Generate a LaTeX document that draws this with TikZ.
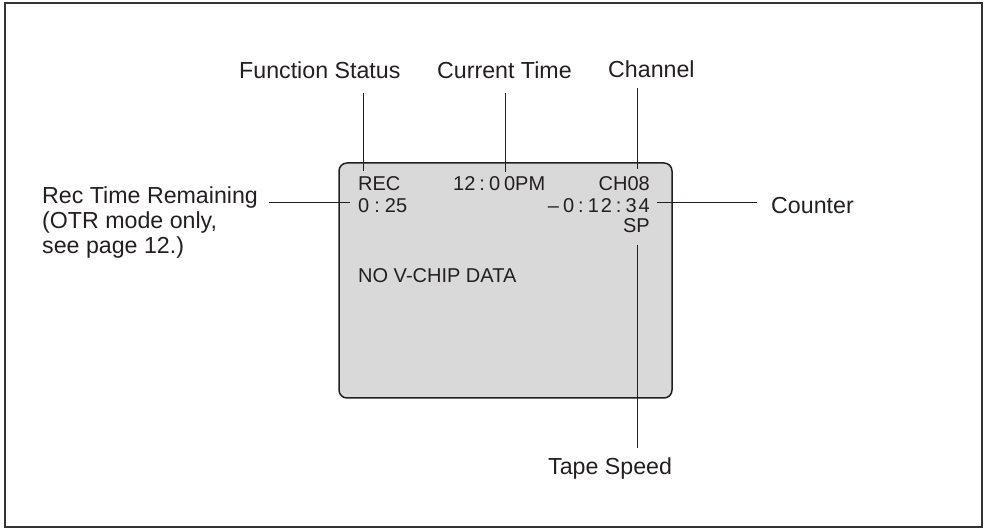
\documentclass[tikz,border=0pt]{standalone}
\usepackage{fontspec}
\setmainfont{Liberation Sans}
\definecolor{ink}{HTML}{231F20}
\definecolor{screen}{HTML}{D9D9D9}
\definecolor{frame}{HTML}{333333}
\begin{document}
\begin{tikzpicture}[x=1pt,y=-1pt,
  lbl/.style={font=\fontsize{23.2}{25}\selectfont, text=ink, inner sep=0pt, anchor=base west},
  scr/.style={font=\fontsize{20}{20}\selectfont, text=ink, inner sep=0pt, anchor=base west},
  lead/.style={draw=ink, line width=1pt}]
\useasboundingbox (0,0) rectangle (986,529);
\draw[line width=2pt, draw=frame] (5,3) rectangle (982,527);
\draw[fill=screen, draw=ink, line width=1.5pt, rounded corners=8pt] (339,163) rectangle (672,398);
% labels
\node[lbl] (fs) at (239,79) {Function Status};
\node[lbl] (ct) at (437,79) {Current Time};
\node[lbl] (ch) at (608,78) {Channel};
\node[lbl] (rtr1) at (42,204) {Rec Time Remaining};
\node[lbl] (rtr2) at (42,229) {(OTR mode only,};
\node[lbl] (rtr3) at (42,254) {see page 12.)};
\node[lbl] (ctr) at (771,214) {Counter};
\node[lbl] (tsp) at (548,474) {Tape Speed};
% screen texts
\node[scr] (rec) at (358,191) {REC};
\node[scr] (time) at (453,191) {12\kern4pt:\kern4pt0\kern4pt0PM};
\node[scr, anchor=base east] (chn) at (650,191) {CH08};
\node[scr] (rem) at (358,213) {0\kern5pt:\kern5pt25};
\node[scr, anchor=base east] (cnt) at (650,213) {\textendash\kern4pt0\kern4pt:\kern4pt1\kern2pt2\kern4pt:\kern4pt3\kern2pt4};
\node[scr, anchor=base east] (sp) at (650,233) {SP};
\node[scr] (nov) at (358,283) {NO V-CHIP DATA};
% leader end points
\coordinate (fsA) at (363,93);  \coordinate (fsB) at (363,171);
\coordinate (ctA) at (505,93);  \coordinate (ctB) at (505,172);
\coordinate (chA) at (637,88);  \coordinate (chB) at (637,169);
\coordinate (rtA) at (269,203); \coordinate (rtB) at (350,203);
\coordinate (coA) at (657,203); \coordinate (coB) at (757,203);
\coordinate (tsA) at (637,245); \coordinate (tsB) at (637,448);
\draw[lead] (fsA) -- (fsB);
\draw[lead] (ctA) -- (ctB);
\draw[lead] (chA) -- (chB);
\draw[lead] (rtA) -- (rtB);
\draw[lead] (coA) -- (coB);
\draw[lead] (tsA) -- (tsB);
\end{tikzpicture}
\end{document}
